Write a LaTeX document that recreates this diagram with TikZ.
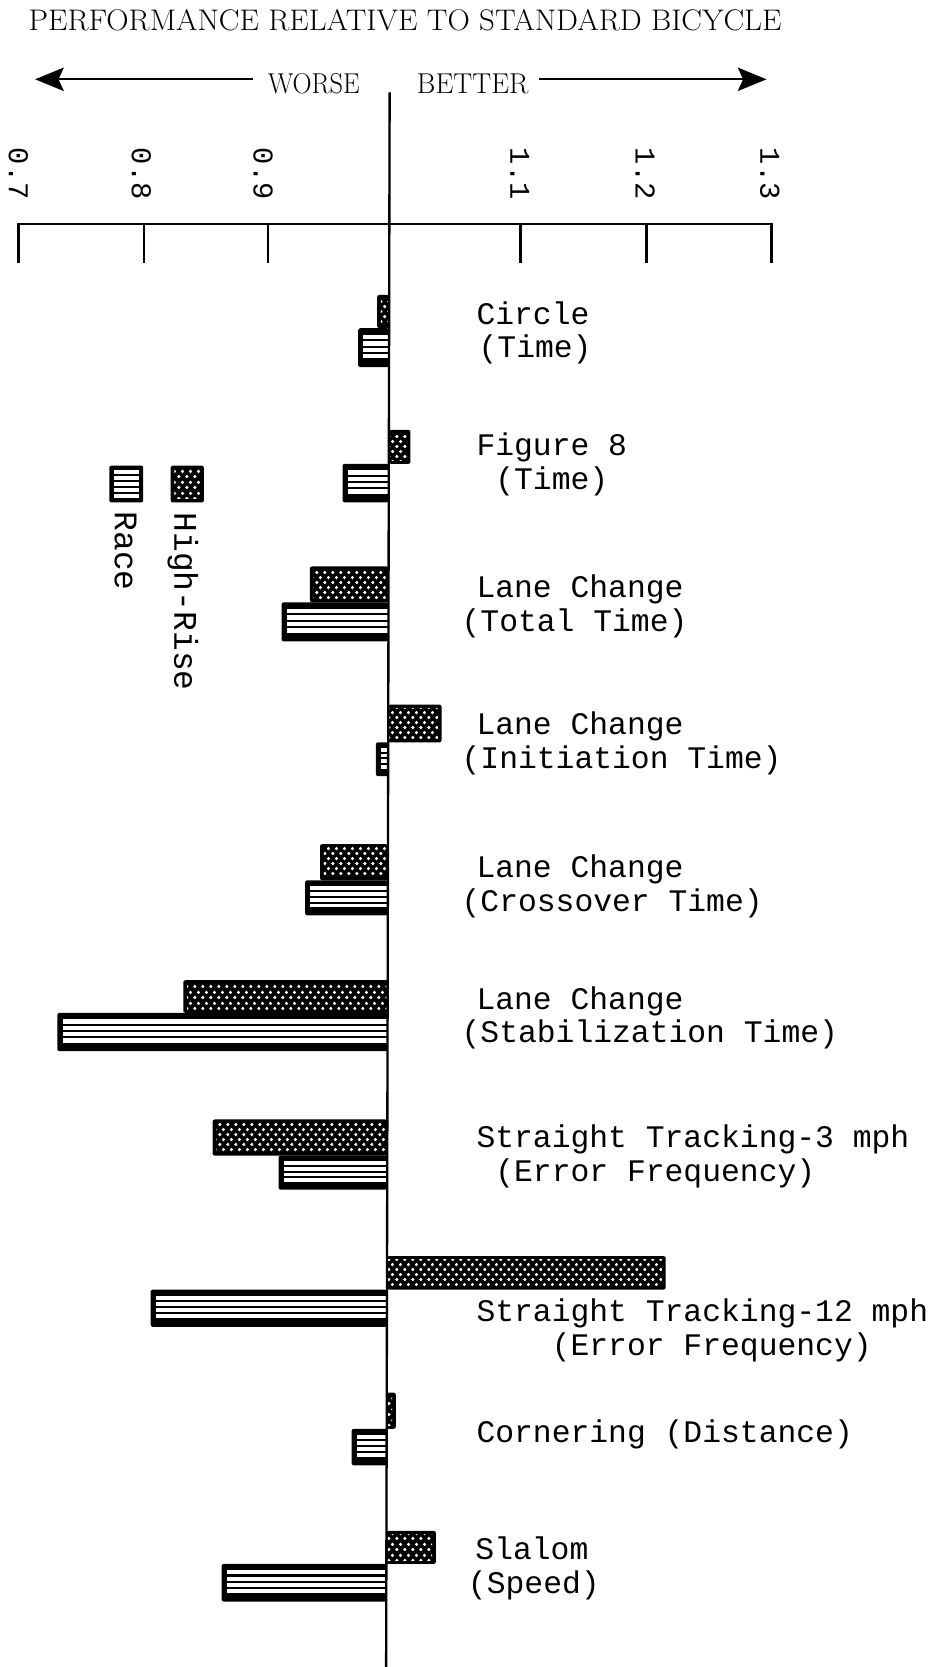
\documentclass[tikz,border=0pt]{standalone}
\usepackage{fontspec}
\newfontfamily\tw{Liberation Mono}
\usetikzlibrary{arrows.meta,patterns}
\pgfdeclarepatternformonly{hrdots}{\pgfpointorigin}{\pgfqpoint{7.6pt}{9.8pt}}{\pgfqpoint{7.6pt}{9.8pt}}{%
  \pgfpathcircle{\pgfqpoint{1.9pt}{2.45pt}}{1.75pt}%
  \pgfpathcircle{\pgfqpoint{5.7pt}{7.35pt}}{1.75pt}%
  \pgfusepath{fill}}
% High-Rise bar to the left of the axis: xleft, axis, top, bottom
\newcommand\hrL[4]{%
  \fill[black,rounded corners=2pt] (#1,#3) rectangle (#2,#4);
  \fill[pattern=hrdots,pattern color=white] ({#1+3.5},{#3+3.5}) rectangle ({#2-1},{#4-3.5});}
% High-Rise bar to the right of the axis: axis, xright, top, bottom
\newcommand\hrR[4]{%
  \fill[black,rounded corners=2pt] (#1,#3) rectangle (#2,#4);
  \fill[pattern=hrdots,pattern color=white] ({#1+1},{#3+3.5}) rectangle ({#2-3.5},{#4-3.5});}
% Race bar to the left of the axis: xleft, axis, top, bottom
\newcommand\raceL[4]{%
  \fill[black,rounded corners=2pt] (#1,#3) rectangle (#2,#4);
  \foreach \k in {0,1,2,3}{%
    \fill[white] ({#1+5},{#3+(0.17+0.165*\k)*(#4-#3)}) rectangle ({#2-0.8},{#3+(0.28+0.165*\k)*(#4-#3)});}}
\begin{document}
\begin{tikzpicture}[x=1pt,y=-1pt,
  lbl/.style={anchor=base west,inner sep=0pt,font=\tw\fontsize{29.5}{34}\selectfont},
  tk/.style={rotate=-90,inner sep=0pt,font=\tw\fontsize{27}{30}\selectfont},
  leg/.style={rotate=-90,anchor=base west,inner sep=0pt,font=\tw\fontsize{31}{34}\selectfont},
  hdr/.style={inner sep=0pt,font=\fontsize{27}{30}\selectfont},
  arr/.style={line width=1.9pt,-{Stealth[length=27pt,width=22pt,inset=5pt]}},
  axisline/.style={line width=2.6pt,line join=miter}]
\fill[white] (0,0) rectangle (880,1568);
\useasboundingbox (0,0) rectangle (880,1568);

% title and direction arrows
\node[anchor=base,inner sep=0pt,font=\fontsize{28}{30}\selectfont] (title) at (381,29) {\scalebox{1.04}[1]{PERFORMANCE RELATIVE TO STANDARD BICYCLE}};
\node[hdr,anchor=base east] (worse) at (338.5,88.4) {\scalebox{0.92}[1]{WORSE}};
\node[hdr,anchor=base west] (better) at (392,88.4) {\scalebox{0.99}[1]{BETTER}};
\coordinate (lstart) at (238,74.6);
\coordinate (ltip) at (33,74.6);
\coordinate (rstart) at (507,74.6);
\coordinate (rtip) at (721,74.6);
\draw[arr] (lstart) -- (ltip);
\draw[arr] (rstart) -- (rtip);

% scale
\node[tk] (t07) at (17.2,163.5) {0.7};
\node[tk] (t08) at (133,163.5) {0.8};
\node[tk] (t09) at (247.5,163.5) {0.9};
\node[tk] (t11) at (489,163.5) {1.1};
\node[tk] (t12) at (607,163.5) {1.2};
\node[tk] (t13) at (724,163.5) {1.3};
\draw[axisline] (17.2,247) -- (17.2,210.6) -- (725.5,210.6) -- (725.5,247);
\foreach \x in {135.4,252,489.5,608} \draw[axisline] (\x,210.6) -- (\x,247);

% legend
\fill[black,rounded corners=2pt] (102.8,438) rectangle (134.7,472.6);
\foreach \k in {0,1,2,3,4} \fill[white] (106.8,{442.3+5.6*\k}) rectangle (130.7,{445.9+5.6*\k});
\fill[black,rounded corners=2pt] (160.5,438) rectangle (191.8,472.6);
\fill[pattern=hrdots,pattern color=white] (164,441.5) rectangle (188.3,469.1);
\node[leg] (lrace) at (108,481) {Race};
\node[leg] (lhr) at (164,482) {High-Rise};

% bars
\hrL{354.8}{366.0}{277.4}{308.7}
\raceL{336.9}{366.0}{308.7}{345.3}
\hrR{365.8}{386.1}{404.3}{436.3}
\raceL{322.2}{365.8}{436.3}{472.5}
\hrL{291.5}{365.4}{532.8}{566.6}
\raceL{264.8}{365.4}{566.6}{603.3}
\hrR{365.1}{415.3}{662.8}{698.3}
\raceL{353.5}{365.1}{698.3}{730}
\hrL{301}{364.8}{794}{828}
\raceL{287}{364.8}{828}{861}
\hrL{172.4}{364.6}{922}{952.7}
\raceL{53.9}{364.6}{952.7}{988.8}
\hrL{200}{364.3}{1053}{1087}
\raceL{262}{364.3}{1087}{1119}
\hrR{364.0}{626.2}{1181.5}{1213}
\raceL{141.7}{364.0}{1213}{1248}
\hrR{363.7}{372.3}{1310}{1344}
\raceL{330.7}{363.7}{1344}{1378.3}
\hrR{363.4}{410}{1440}{1471}
\raceL{208.4}{363.4}{1471}{1506.5}

% central axis
\draw[line width=2.2pt] (366.5,87) -- (363.2,1568);

% labels
\node[lbl] (c1a) at (448,305) {Circle};
\node[lbl] (c1b) at (450,336) {(Time)};
\node[lbl] (f8a) at (448,428.4) {Figure 8};
\node[lbl] (f8b) at (465.7,460) {(Time)};
\node[lbl] (tta) at (448,562) {Lane Change};
\node[lbl] (ttb) at (434,594) {(Total Time)};
\node[lbl] (ita) at (448,691) {Lane Change};
\node[lbl] (itb) at (434,723) {(Initiation Time)};
\node[lbl] (cra) at (448,825) {Lane Change};
\node[lbl] (crb) at (434,857) {(Crossover Time)};
\node[lbl] (sta) at (448,950) {Lane Change};
\node[lbl] (stb) at (434,981) {(Stabilization Time)};
\node[lbl] (t3a) at (448,1079) {Straight Tracking-3 mph};
\node[lbl] (t3b) at (465.7,1111) {(Error Frequency)};
\node[lbl] (t12a) at (448,1243) {Straight Tracking-12 mph};
\node[lbl] (t12b) at (518.8,1275) {(Error Frequency)};
\node[lbl] (cor) at (448,1357) {Cornering (Distance)};
\node[lbl] (sla) at (447,1467) {Slalom};
\node[lbl] (slb) at (440,1499) {(Speed)};
\end{tikzpicture}
\end{document}
